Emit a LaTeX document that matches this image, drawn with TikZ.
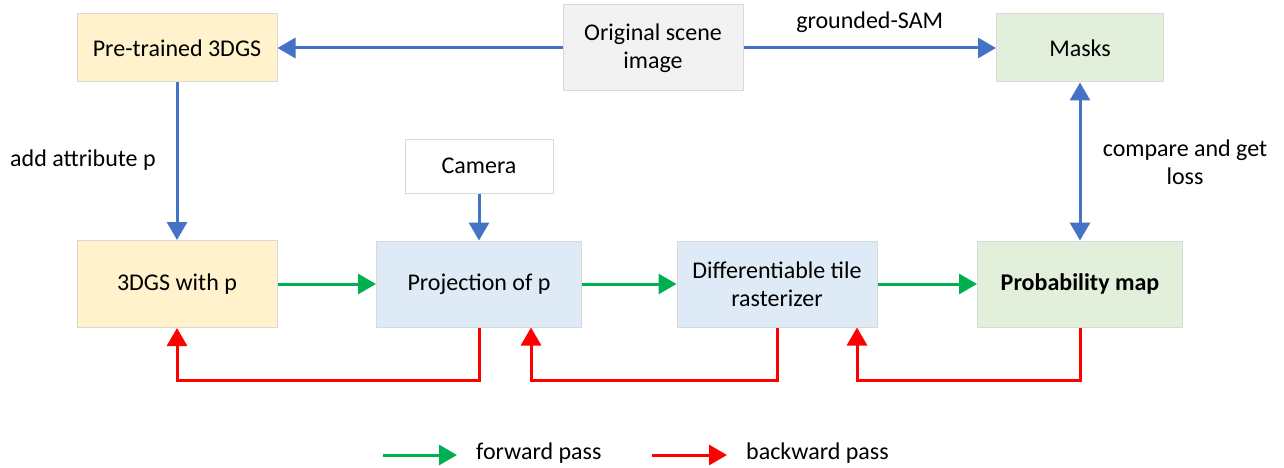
\documentclass[tikz,border=0pt]{standalone}
\usepackage{fontspec}
\setmainfont{Carlito}
\usetikzlibrary{arrows.meta,calc}
\definecolor{cblue}{HTML}{4472C4}
\definecolor{cgreen}{HTML}{00B050}
\definecolor{cred}{HTML}{FF0000}
\definecolor{fyellow}{HTML}{FFF2CC}
\definecolor{fgray}{HTML}{F2F2F2}
\definecolor{fgreen}{HTML}{E2EFDA}
\definecolor{fblue}{HTML}{DEEBF7}
\definecolor{bord}{HTML}{D9D9D9}
\tikzset{
  box/.style={draw=bord, line width=1pt, align=center, inner sep=2pt,
    font=\fontsize{24}{28}\selectfont},
  lbl/.style={font=\fontsize{24}{28}\selectfont, inner sep=0pt},
  bluearr/.style={draw=cblue, line width=3pt, -{Triangle[length=18pt,width=20pt]}},
  greenarr/.style={draw=cgreen, line width=3pt, -{Triangle[length=18pt,width=20pt]}},
  redarr/.style={draw=cred, line width=3pt, -{Triangle[length=18pt,width=20pt]}},
}
\begin{document}
\begin{tikzpicture}[x=1pt,y=-1pt]
\useasboundingbox (0,0) rectangle (1284,468);
% top row
\node[box, fill=fyellow, minimum width=200pt, minimum height=68pt] (pre) at (177,48) {Pre-trained 3DGS};
\node[box, fill=fgray, minimum width=180pt, minimum height=86pt] (orig) at (653,48) {Original scene\\image};
\node[box, fill=fgreen, minimum width=167pt, minimum height=68pt] (masks) at (1080,48) {Masks};
% camera
\node[box, fill=white, minimum width=148pt, minimum height=54pt] (cam) at (479,166) {Camera};
% bottom row
\node[box, fill=fyellow, minimum width=200pt, minimum height=87pt] (g3) at (177,284) {3DGS with p};
\node[box, fill=fblue, minimum width=205pt, minimum height=86pt] (proj) at (479,284) {Projection of p};
\node[box, fill=fblue, minimum width=200pt, minimum height=86pt] (diff) at (777,284) {Differentiable tile\\rasterizer};
\node[box, fill=fgreen, minimum width=205pt, minimum height=86pt, font=\fontsize{24}{28}\selectfont\bfseries] (prob) at (1080,284) {Probability map};
% blue arrows
\draw[bluearr] (orig) -- (pre);
\draw[bluearr] (orig) -- (masks) node[midway, lbl, above=14pt] (gsam) {grounded-SAM};
\draw[bluearr] (pre) -- (g3);
\node[lbl, anchor=west] (addp) at (10,160) {add attribute p};
\draw[bluearr] (cam) -- (proj);
\draw[draw=cblue, line width=3pt, {Triangle[length=18pt,width=20pt]}-{Triangle[length=18pt,width=20pt]}] (masks) -- (prob);
\node[lbl, align=center] (cmp) at (1185,162) {compare and get\\loss};
% green arrows
\draw[greenarr] (g3) -- (proj);
\draw[greenarr] (proj) -- (diff);
\draw[greenarr] (diff) -- (prob);
% red arrows
\draw[redarr, rounded corners=0pt] (proj.south) -- ++(0,53) -| (g3.south);
\draw[redarr] (diff.south) -- ++(0,53) -| ([xshift=52pt]proj.south);
\draw[redarr] (prob.south) -- ++(0,53) -| ([xshift=80pt]diff.south);
% legend
\coordinate (lg1) at (383,455);
\coordinate (lg2) at (457,455);
\coordinate (lr1) at (652,455);
\coordinate (lr2) at (727,455);
\draw[greenarr] (lg1) -- (lg2);
\draw[redarr] (lr1) -- (lr2);
\node[lbl, anchor=west] (fw) at (476,453) {forward pass};
\node[lbl, anchor=west] (bw) at (746,453) {backward pass};
\end{tikzpicture}
\end{document}
